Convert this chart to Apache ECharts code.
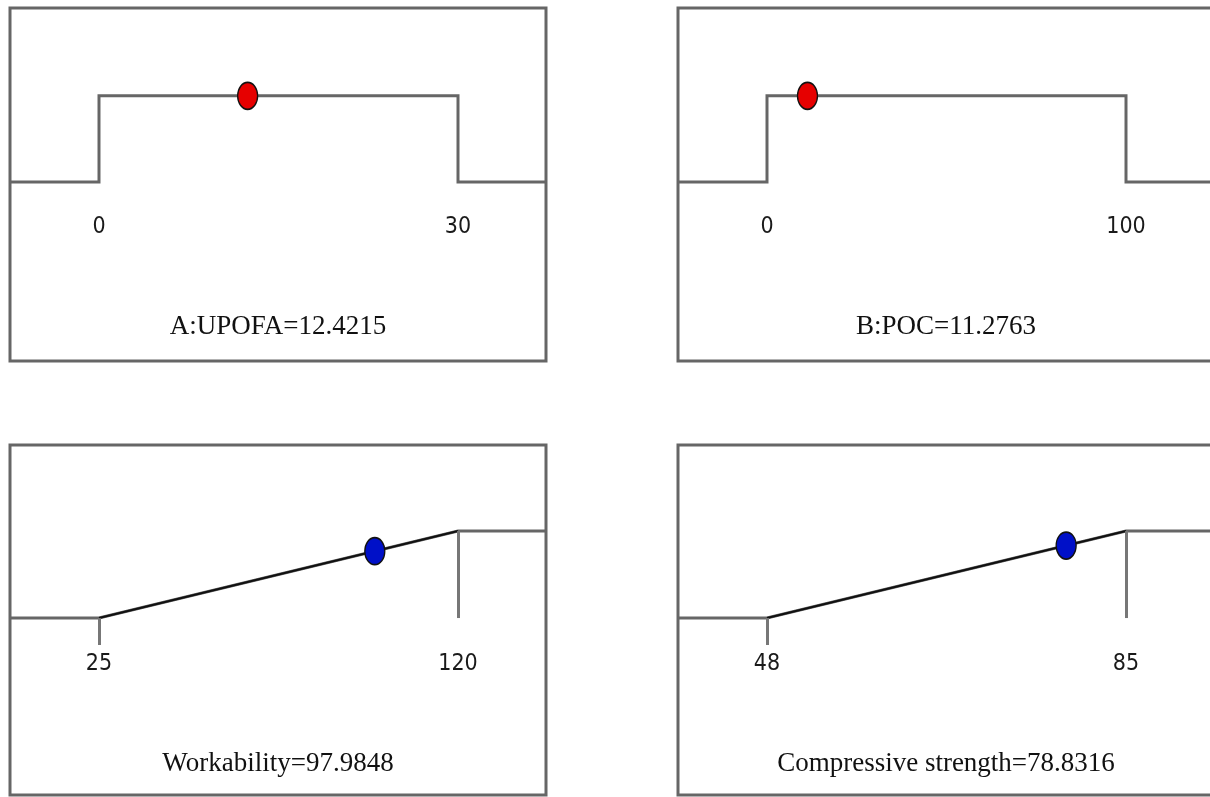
<!DOCTYPE html>
<html>
<head>
<meta charset="utf-8">
<script src="https://cdn.jsdelivr.net/npm/echarts@6/dist/echarts.min.js"></script>
<style>
  html, body { margin: 0; padding: 0; background: #fff; }
  #chart { width: 1210px; height: 797px; }
</style>
</head>
<body>
<div id="chart"></div>
<script>
  // desirability ramps, one panel per factor / response
  var names = ['A:UPOFA', 'B:POC', 'Workability', 'Compressive strength']
  var lows = [0, 0, 25, 48]
  var highs = [30, 100, 120, 85]
  var values = [12.4215, 11.2763, 97.9848, 78.8316]
  var goals = ['range', 'range', 'max', 'max']
  var dotColors = ['#e60000', '#e60000', '#0010c8', '#0010c8']

  // panel boxes in px: left, top, width, height
  var boxes = [
    [10, 8, 536, 353],
    [678, 8, 536, 353],
    [10, 445, 536, 350],
    [678, 445, 536, 350]
  ]
  // where lo / hi sit inside a box (px from left), and the y-range of each box
  var loOff = 89, hiOff = 448
  var yRanges = [[-2.08, 2.02], [-2.08, 2.02], [-2.034, 1.989], [-2.034, 1.989]]
  var narrow = "'Liberation Sans Narrow', 'DejaVu Sans Condensed', 'DejaVu Sans', sans-serif"

  var grids = [], xAxes = [], yAxes = [], series = [], titles = []

  names.forEach(function (name, i) {
    var lo = lows[i], hi = highs[i], b = boxes[i]
    var per = (hi - lo) / (hiOff - loOff)
    var xmin = lo - loOff * per
    var xmax = lo + (b[2] - loOff) * per

    grids.push({
      left: b[0], top: b[1], width: b[2], height: b[3],
      show: true, borderColor: '#666', borderWidth: 3,
      outerBoundsMode: 'none'
    })
    xAxes.push({
      gridIndex: i, type: 'value', min: xmin, max: xmax, show: false
    })
    yAxes.push({
      gridIndex: i, type: 'value', min: yRanges[i][0], max: yRanges[i][1], show: false
    })

    var d, curve
    if (goals[i] === 'range') {
      d = 1
      curve = [[xmin, 0], [lo, 0], [lo, 1], [hi, 1], [hi, 0], [xmax, 0]]
    } else {
      d = (values[i] - lo) / (hi - lo)
      curve = [[xmin, 0], [lo, 0], [hi, 1], [xmax, 1]]
    }

    series.push({
      type: 'line', xAxisIndex: i, yAxisIndex: i,
      data: curve, symbol: 'none', silent: true,
      lineStyle: { color: '#666', width: 3, join: 'miter' },
      markLine: goals[i] === 'max' ? {
        symbol: 'none', silent: true, label: { show: false },
        lineStyle: { color: '#777', width: 3, type: 'solid' },
        data: [
          [{ coord: [lo, 0] }, { coord: [lo, -0.31] }],
          [{ coord: [hi, 1] }, { coord: [hi, 0] }]
        ]
      } : undefined
    })
    if (goals[i] === 'max') {
      series.push({
        type: 'line', xAxisIndex: i, yAxisIndex: i,
        data: [[lo, 0], [hi, 1]], symbol: 'none', silent: true,
        lineStyle: { color: '#111', width: 2 }
      })
    }
    // limit labels under the zero line
    series.push({
      type: 'scatter', xAxisIndex: i, yAxisIndex: i, silent: true,
      data: [[lo, 0], [hi, 0]], symbolSize: 0,
      itemStyle: { opacity: 1 },
      label: {
        show: true, position: 'bottom', distance: 34,
        formatter: function (p) { return String(p.value[0]) },
        color: '#1a1a1a', fontFamily: narrow, fontSize: 23
      }
    })
    series.push({
      type: 'scatter', xAxisIndex: i, yAxisIndex: i,
      data: [[values[i], d]], symbol: 'circle', symbolSize: [20, 27],
      itemStyle: { color: dotColors[i], borderColor: '#111', borderWidth: 1.5, opacity: 1 },
      z: 5
    })

    titles.push({
      text: name + '=' + values[i],
      left: b[0] + 268, top: b[1] + 305,
      textAlign: 'center', padding: 0,
      textStyle: { fontFamily: 'Liberation Serif', fontWeight: 'normal', fontSize: 27, color: '#111' }
    })
  })

  var chart = echarts.init(document.getElementById('chart'))
  chart.setOption({
    animation: false,
    title: titles,
    grid: grids,
    xAxis: xAxes,
    yAxis: yAxes,
    series: series
  })
</script>
</body>
</html>
